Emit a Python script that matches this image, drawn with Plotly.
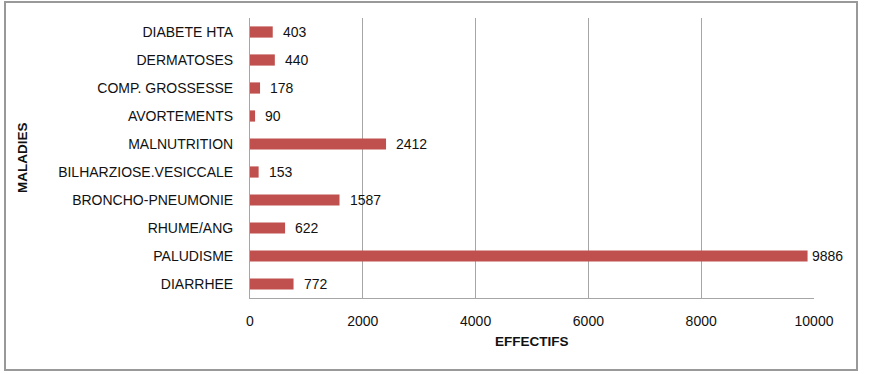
import plotly.graph_objects as go

categories = ["DIARRHEE", "PALUDISME", "RHUME/ANG", "BRONCHO-PNEUMONIE",
              "BILHARZIOSE.VESICCALE", "MALNUTRITION", "AVORTEMENTS",
              "COMP. GROSSESSE", "DERMATOSES", "DIABETE HTA"]
values = [772, 9886, 622, 1587, 153, 2412, 90, 178, 440, 403]
x_ticks = [0, 2000, 4000, 6000, 8000, 10000]

W, H = 890, 374
L, R, T, B = 250, 814, 18, 298
pw, ph = R - L, B - T

FONT = "Liberation Sans"
FS = 14
TXT = "#111111"

fig = go.Figure(go.Bar(
    x=values, y=categories, orientation="h",
    marker=dict(color="#C0504D", line=dict(width=0)),
    width=0.4,
    hoverinfo="x+y",
))

annotations = [
    dict(text=str(v), x=v, y=c, xref="x", yref="y", xanchor="left", yanchor="middle",
         xshift=(2 if v > 9000 else 8), showarrow=False,
         font=dict(family=FONT, size=FS, color=TXT))
    for v, c in zip(values, categories)
]
annotations += [
    dict(text="<b>EFFECTIFS</b>", xref="paper", yref="paper",
         x=0.5, y=(B - 342) / ph, xanchor="center", yanchor="middle",
         showarrow=False, font=dict(family=FONT, size=13.5, color=TXT)),
    dict(text="<b>MALADIES</b>", xref="paper", yref="paper",
         x=(22 - L) / pw, y=0.5, xanchor="center", yanchor="middle",
         textangle=-90, showarrow=False,
         font=dict(family=FONT, size=13.5, color=TXT)),
]

fig.update_layout(
    width=W, height=H,
    margin=dict(l=L, r=W - R, t=T, b=H - B),
    paper_bgcolor="white", plot_bgcolor="white",
    showlegend=False,
    font=dict(family=FONT, size=FS, color=TXT),
    xaxis=dict(range=[0, 10000], tickvals=x_ticks, ticktext=[str(t) for t in x_ticks],
               showgrid=True, gridcolor="#A6A6A6", gridwidth=1,
               showline=True, linecolor="#A6A6A6", linewidth=1,
               zeroline=False, ticks="", ticklabelstandoff=10,
               tickfont=dict(family=FONT, size=FS, color=TXT)),
    yaxis=dict(showgrid=False, showline=True, linecolor="#A6A6A6", linewidth=1,
               ticks="", ticklabelstandoff=13,
               tickfont=dict(family=FONT, size=FS, color=TXT)),
    annotations=annotations,
    shapes=[dict(type="rect", xref="paper", yref="paper",
                 x0=(5 - L) / pw, x1=(857 - L) / pw,
                 y0=(B - 370) / ph, y1=(B - 2) / ph,
                 line=dict(color="#999999", width=2))],
)

fig.write_html("out.html", config={"displayModeBar": False},
               post_script="document.body.style.margin='0px';document.body.style.overflow='hidden';")
